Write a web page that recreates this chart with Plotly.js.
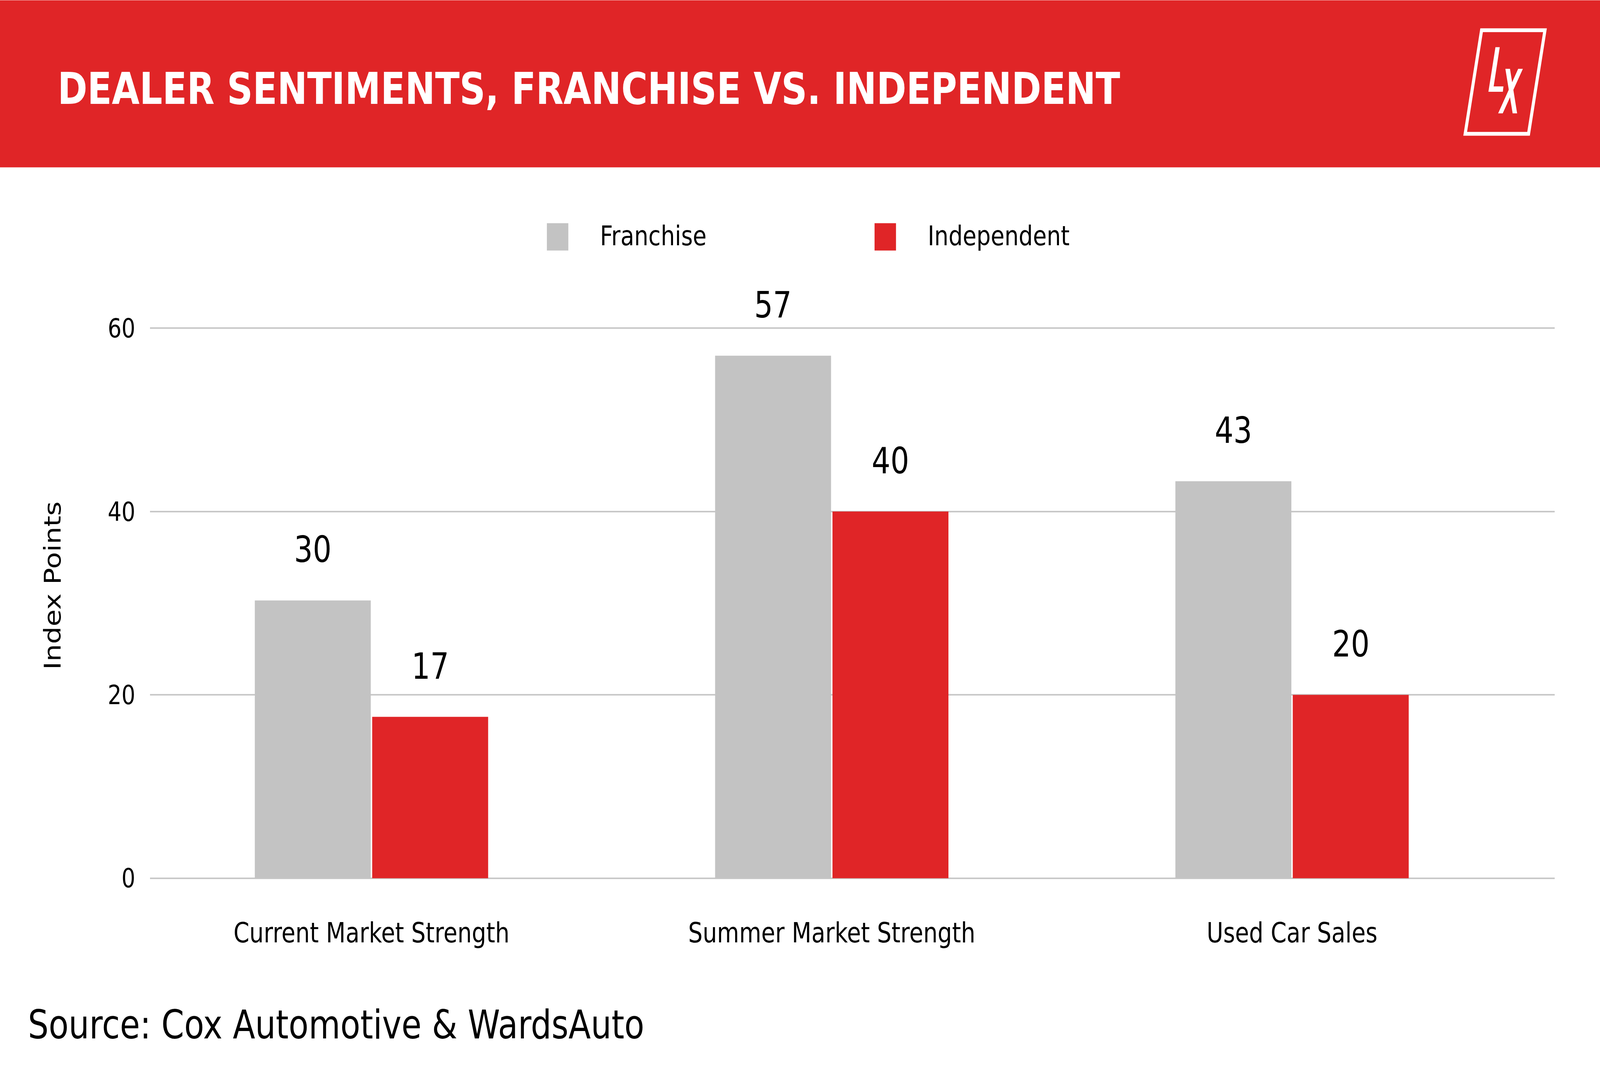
<!DOCTYPE html>
<html>
<head>
<meta charset="utf-8">
<script src="https://cdn.plot.ly/plotly-3.0.1.min.js"></script>
<style>
  html, body { margin: 0; background: #fff; overflow: hidden; }
  #chart { width: 5000px; height: 2727px; transform-origin: 0 0; }
</style>
</head>
<body>
<div id="chart"></div>
<script>
// data
var categories = ["Current Market Strength", "Summer Market Strength", "Used Car Sales"]
var seriesNames = ["Franchise", "Independent"]
var franchise = [30.3, 57, 43.3]
var independent = [17.6, 40, 20]
var franchiseLabels = ["30", "57", "43"]
var independentLabels = ["17", "40", "20"]
var yTicks = [0, 20, 40, 60]

var RED = "#E02527"
var GREY = "#C3C3C3"
var FONT = "DejaVu Sans, sans-serif"
var W = 5000, H = 2727

// the chart is laid out at 5000x2727 and fitted to the window
var el = document.getElementById("chart")
el.style.transform = "scale(" + (window.innerWidth / W) + "," + (window.innerHeight / H) + ")"

// plot area: 0 -> y=2249px, 60 -> y=840px; small pad so the edge gridlines show
var unit = (2249 - 840) / 60
var pad = 0.1
var M = {l: 469, r: 141, t: 840 - pad * unit, b: H - 2249 - pad * unit}
var plotW = W - M.l - M.r
var plotH = H - M.t - M.b

// pixel -> paper helpers for the decoration outside the plot area
function px(x) { return (x - M.l) / plotW }
function py(y) { return 1 - (y - M.t) / plotH }
function poly(points) {
    return "M" + points.map(function (p) { return px(p[0]) + "," + py(p[1]) }).join("L") + "Z"
}

var groupWidth = 0.51
var slot = groupWidth / 2

var traces = [{
    type: "bar",
    name: seriesNames[0],
    x: categories,
    y: franchise,
    marker: {color: GREY},
    hoverinfo: "none",
}, {
    type: "bar",
    name: seriesNames[1],
    x: categories,
    y: independent,
    marker: {color: RED},
    hoverinfo: "none",
}]

var annotations = []
categories.forEach(function (c, i) {
    [[franchise, franchiseLabels, -1], [independent, independentLabels, 1]].forEach(function (s) {
        annotations.push({
            x: i + s[2] * slot / 2,
            y: s[0][i],
            xref: "x",
            yref: "y",
            text: s[1][i],
            showarrow: false,
            yanchor: "bottom",
            yshift: 74,
            font: {family: FONT, size: 92, color: "#000"},
        })
    })
})

// legend, drawn by hand so the swatches can be large
var legendX = [1709, 2733]
var legendColors = [GREY, RED]
var shapes = [{
    type: "rect", xref: "paper", yref: "paper",
    x0: px(0), x1: px(W), y0: py(0), y1: py(428),
    fillcolor: RED, line: {width: 0},
}, {
    // logo frame
    type: "path", xref: "paper", yref: "paper",
    path: poly([[4630, 76.7], [4828, 76.7], [4776.7, 342], [4578.7, 342]]),
    line: {color: "white", width: 9.7},
}, {
    // L
    type: "path", xref: "paper", yref: "paper",
    path: poly([[4673.3, 120], [4686.7, 120], [4667.7, 220.7], [4698.3, 220.7], [4696.3, 234.3], [4651.3, 234.3]]),
    fillcolor: "white", line: {width: 0},
}, {
    // X
    type: "path", xref: "paper", yref: "paper",
    path: poly([[4704.3, 175.7], [4718.7, 175.7], [4741, 289.7], [4727, 289.7]]),
    fillcolor: "white", line: {width: 0},
}, {
    type: "path", xref: "paper", yref: "paper",
    path: poly([[4744.3, 175.7], [4759, 175.7], [4696, 289.7], [4681.7, 289.7]]),
    fillcolor: "white", line: {width: 0},
}]

seriesNames.forEach(function (name, i) {
    shapes.push({
        type: "rect", xref: "paper", yref: "paper",
        x0: px(legendX[i]), x1: px(legendX[i] + 67), y0: py(571), y1: py(641),
        fillcolor: legendColors[i], line: {width: 0},
    })
    annotations.push({
        xref: "paper", yref: "paper",
        x: px(legendX[i] + 164), y: py(604),
        xanchor: "left", yanchor: "middle",
        text: name, showarrow: false,
        font: {family: FONT, size: 70, color: "#000"},
    })
})

// y axis title sits a little above the middle of the axis in the original
annotations.push({
    xref: "paper", yref: "paper",
    x: px(164), y: py(1500),
    xanchor: "center", yanchor: "middle",
    textangle: -90,
    text: "Index Points", showarrow: false,
    font: {family: FONT, size: 71, color: "#000"},
})

annotations.push({
    xref: "paper", yref: "paper",
    x: px(85), y: py(2624),
    xanchor: "left", yanchor: "middle",
    text: "Source: Cox Automotive & WardsAuto", showarrow: false,
    font: {family: FONT, size: 102, color: "#000"},
})

Plotly.newPlot(
    el,
    traces,
    {
        width: W,
        height: H,
        margin: M,
        paper_bgcolor: "white",
        plot_bgcolor: "white",
        showlegend: false,
        barmode: "group",
        bargap: 1 - groupWidth,
        bargroupgap: 0.012,
        font: {family: FONT, color: "#000"},
        title: {
            text: "DEALER SENTIMENTS, FRANCHISE VS. INDEPENDENT",
            font: {family: FONT, size: 112, color: "white", weight: "bold"},
            xref: "container",
            yref: "container",
            x: 180 / W,
            xanchor: "left",
            y: 1 - 227 / H,
            yanchor: "middle",
        },
        xaxis: {
            type: "category",
            range: [-0.481, 2.571],
            showgrid: false,
            showline: false,
            zeroline: false,
            ticks: "",
            ticklabelstandoff: 90,
            tickfont: {family: FONT, size: 71, color: "#000"},
        },
        yaxis: {
            range: [-pad, 60 + pad],
            tickvals: yTicks,
            showline: false,
            zeroline: false,
            gridcolor: "#C8C8C8",
            gridwidth: 4,
            ticks: "",
            ticklabelstandoff: 45,
            tickfont: {family: FONT, size: 68, color: "#000"},
        },
        shapes: shapes,
        annotations: annotations,
    },
    {staticPlot: true}
)
</script>
</body>
</html>
